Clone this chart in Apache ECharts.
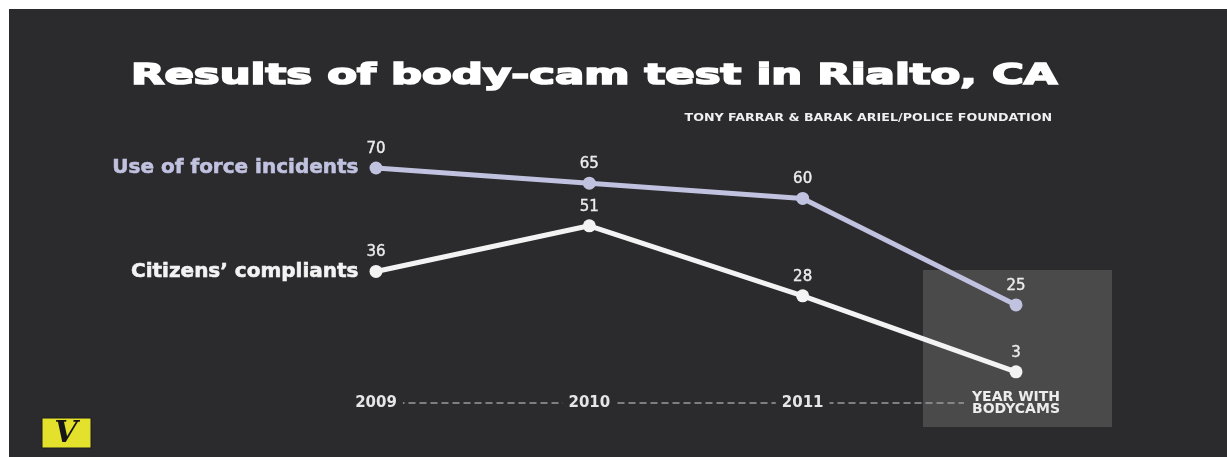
<!DOCTYPE html>
<html>
<head>
<meta charset="utf-8">
<script src="https://cdn.jsdelivr.net/npm/echarts@6/dist/echarts.min.js"></script>
<style>
  html, body { margin: 0; padding: 0; background: #ffffff; }
  #panel { position: absolute; left: 9px; top: 9px; width: 1218px; height: 448px; background: #2b2a2d; }
  #c { position: absolute; left: 0; top: 0; width: 1227px; height: 457px; }
</style>
</head>
<body>
<div id="panel"></div>
<div id="c"></div>
<script>
const titleText = 'Results of body-cam test in Rialto, CA';
const sourceText = 'TONY FARRAR & BARAK ARIEL/POLICE FOUNDATION';
const categories = ['2009', '2010', '2011', 'YEAR WITH\nBODYCAMS'];
const useOfForce = [70, 65, 60, 25];
const complaints = [36, 51, 28, 3];
const seriesNames = ['Use of force incidents', 'Citizens’ compliants'];

const BG = '#2b2a2d';
const BOX = '#4a4a4b';
const LAV = '#c0c2e0';
const WHITE = '#f3f3f3';

const chart = echarts.init(document.getElementById('c'), null, { renderer: 'canvas' });

function makeSeries(name, values, color) {
  return {
    name: name,
    type: 'line',
    data: values,
    clip: false,
    z: 3,
    symbol: 'circle',
    symbolSize: 13,
    lineStyle: { color: color, width: 5 },
    itemStyle: { color: color },
    label: {
      show: true,
      position: 'top',
      distance: 5,
      color: '#ececec',
      fontFamily: 'DejaVu Sans',
      fontSize: 15,
      textBorderColor: '#ececec',
      textBorderWidth: 0.4
    },
    markPoint: {
      symbol: 'circle',
      symbolSize: 13,
      itemStyle: { color: 'rgba(0,0,0,0)' },
      silent: true,
      data: [{ name: name, coord: [categories[0], values[0]] }],
      label: {
        show: true,
        position: 'left',
        distance: 11,
        formatter: '{b}',
        color: color,
        fontFamily: 'DejaVu Sans',
        fontWeight: 'bold',
        fontSize: 20,
        textBorderColor: color,
        textBorderWidth: 0.6
      }
    }
  };
}

const option = {
  animation: false,
  backgroundColor: 'transparent',
  grid: { left: 376, right: 211, top: 168, bottom: 76 },
  xAxis: {
    type: 'category',
    data: categories,
    boundaryGap: false,
    offset: 22,
    z: 5,
    axisTick: { show: false },
    axisLine: { onZero: false, lineStyle: { color: '#9a9a9a', width: 1.5, type: [6, 5] } },
    axisLabel: {
      interval: 0,
      margin: 0,
      verticalAlign: 'middle',
      formatter: function (v) {
        if (v.indexOf('\n') >= 0) {
          return v.split('\n').map(function (s) { return '{b|' + s + '}'; }).join('\n');
        }
        return '{a|' + v + '}';
      },
      rich: {
        a: { backgroundColor: BG, padding: [2, 6], color: '#e6e6e6', fontFamily: 'DejaVu Sans', fontWeight: 'bold', fontSize: 15 },
        b: { backgroundColor: BOX, padding: [0, 8], lineHeight: 12, color: '#ededed', fontFamily: 'DejaVu Sans', fontWeight: 'bold', fontSize: 14 }
      }
    }
  },
  yAxis: { type: 'value', min: 0, max: 70, show: false },
  series: [
    makeSeries(seriesNames[0], useOfForce, LAV),
    makeSeries(seriesNames[1], complaints, WHITE)
  ]
};
chart.setOption(option);

const bx = chart.convertToPixel({ xAxisIndex: 0 }, categories[3]);

chart.setOption({
  graphic: [
    {
      type: 'rect', z: 0, silent: true,
      shape: { x: bx - 93, y: 270, width: 189, height: 157 },
      style: { fill: BOX }
    },
    {
      type: 'text', z: 10, x: 131, y: 77, scaleX: 1.55, silent: true,
      style: { text: titleText, x: 0, y: 0, fill: '#ffffff', stroke: '#ffffff', lineWidth: 1.6, fontFamily: 'DejaVu Sans', fontWeight: 'bold', fontSize: 28, align: 'left', verticalAlign: 'middle' }
    },
    {
      type: 'text', z: 10, x: 1052, y: 118, scaleX: 1.15, silent: true,
      style: { text: sourceText, x: 0, y: 0, fill: '#f0f0f0', fontFamily: 'DejaVu Sans', fontWeight: 'bold', fontSize: 11, align: 'right', verticalAlign: 'middle' }
    },
    {
      type: 'rect', z: 10, silent: true,
      shape: { x: 42, y: 418, width: 49, height: 30 },
      style: { fill: '#e3e12b', stroke: '#1e1e1e', lineWidth: 1 }
    },
    {
      type: 'text', z: 11, x: 66, y: 434, silent: true,
      style: { text: 'V', x: 0, y: 0, fill: '#161616', fontFamily: 'DejaVu Serif', fontStyle: 'italic', fontWeight: 'bold', fontSize: 30, align: 'center', verticalAlign: 'middle' }
    }
  ]
});
</script>
</body>
</html>
